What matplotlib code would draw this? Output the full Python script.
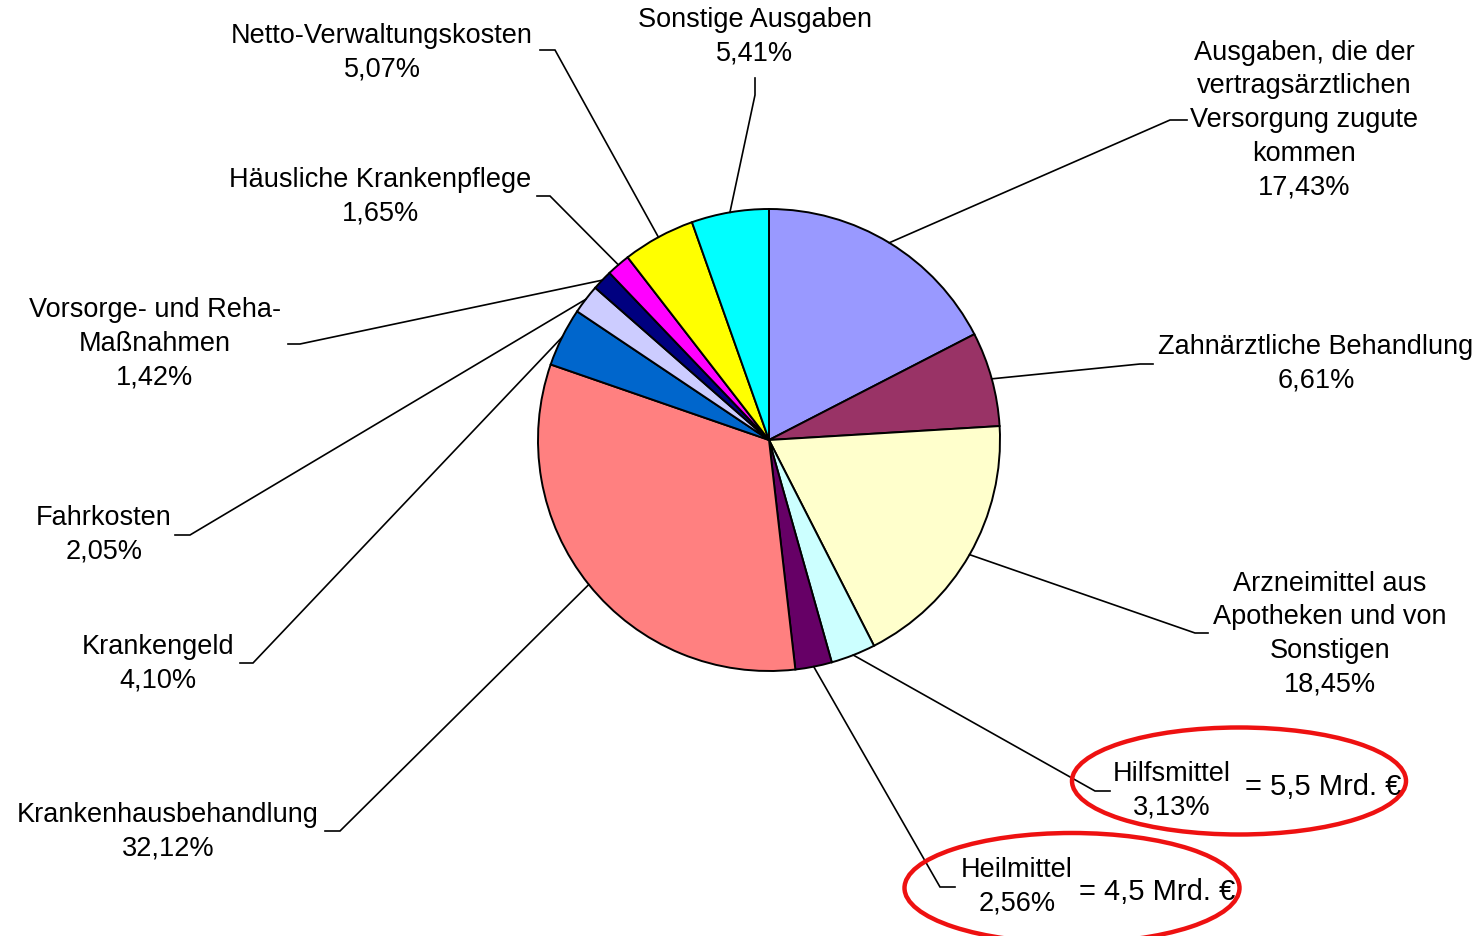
import matplotlib.pyplot as plt
import numpy as np
from matplotlib.patches import Ellipse

W, H = 1482, 936

# slices, clockwise from 12 o'clock
labels = ['Ausgaben, die der\nvertragsärztlichen\nVersorgung zugute\nkommen',
          'Zahnärztliche Behandlung',
          'Arzneimittel aus\nApotheken und von\nSonstigen',
          'Hilfsmittel',
          'Heilmittel',
          'Krankenhausbehandlung',
          'Krankengeld',
          'Fahrkosten',
          'Vorsorge- und Reha-\nMaßnahmen',
          'Häusliche Krankenpflege',
          'Netto-Verwaltungskosten',
          'Sonstige Ausgaben']
values = [17.43, 6.61, 18.45, 3.13, 2.56, 32.12, 4.10, 2.05, 1.42, 1.65, 5.07, 5.41]
colors = ['#9999FF', '#993366', '#FFFFCC', '#CCFFFF', '#660066', '#FF8080',
          '#0066CC', '#CCCCFF', '#000080', '#FF00FF', '#FFFF00', '#00FFFF']

notes = ['= 5,5 Mrd. €', '= 4,5 Mrd. €']

# layout in pixel coords (y down): label centre, elbow, line end near text
label_xy = [(1304, 120), (1316, 364), (1330, 634), (1172, 791), (1017, 887),
            (168, 832), (158, 664), (104, 535), (155, 344), (380, 197),
            (382, 53), (755, 37)]
elbow = [(1170, 120), (1140, 364), (1195, 633), (1095, 791), (940, 887),
         (340, 831), (253, 663), (190, 535), (300, 344), (550, 196),
         (555, 50), (755, 95)]
tip = [(1187, 120), (1153, 364), (1208, 633), (1110, 791), (955, 887),
       (325, 831), (240, 663), (175, 535), (288, 344), (537, 196),
       (540, 50), (755, 78)]
note_xy = [(1323, 787), (1157, 892)]
ellipses = [((1239, 781), 334, 107), ((1072, 888), 335, 110)]

cx, cy, R = 769, 440, 231

plt.rcParams['font.family'] = ['Liberation Sans', 'DejaVu Sans']
fig = plt.figure(figsize=(W / 100, H / 100), dpi=100)
ax = fig.add_axes([0, 0, 1, 1])

ax.pie(values, colors=colors, startangle=90, counterclock=False,
       center=(cx, H - cy), radius=R,
       wedgeprops=dict(edgecolor='black', linewidth=1.4))
ax.set_xlim(0, W)
ax.set_ylim(0, H)
ax.set_aspect('auto')
ax.axis('off')

frac = np.cumsum([0] + values) / 100.0
for i, lab in enumerate(labels):
    mid = 90 - 360 * (frac[i] + frac[i + 1]) / 2
    px = cx + R * np.cos(np.radians(mid))
    py = cy - R * np.sin(np.radians(mid))
    xs = [px, elbow[i][0], tip[i][0]]
    ys = [H - py, H - elbow[i][1], H - tip[i][1]]
    ax.plot(xs, ys, color='black', lw=1.2, solid_joinstyle='miter')
    pct = ('%.2f%%' % values[i]).replace('.', ',')
    ax.text(label_xy[i][0], H - label_xy[i][1], lab + '\n' + pct,
            ha='center', va='center', fontsize=19.5, linespacing=1.38)

for txt, (nx, ny) in zip(notes, note_xy):
    ax.text(nx, H - ny, txt, ha='center', va='center', fontsize=21)

for (ex, ey), ew, eh in ellipses:
    ax.add_patch(Ellipse((ex, H - ey), ew, eh, fill=False,
                         edgecolor='#EE1111', lw=3.2, zorder=5))

fig.savefig('out.png', dpi=100)
